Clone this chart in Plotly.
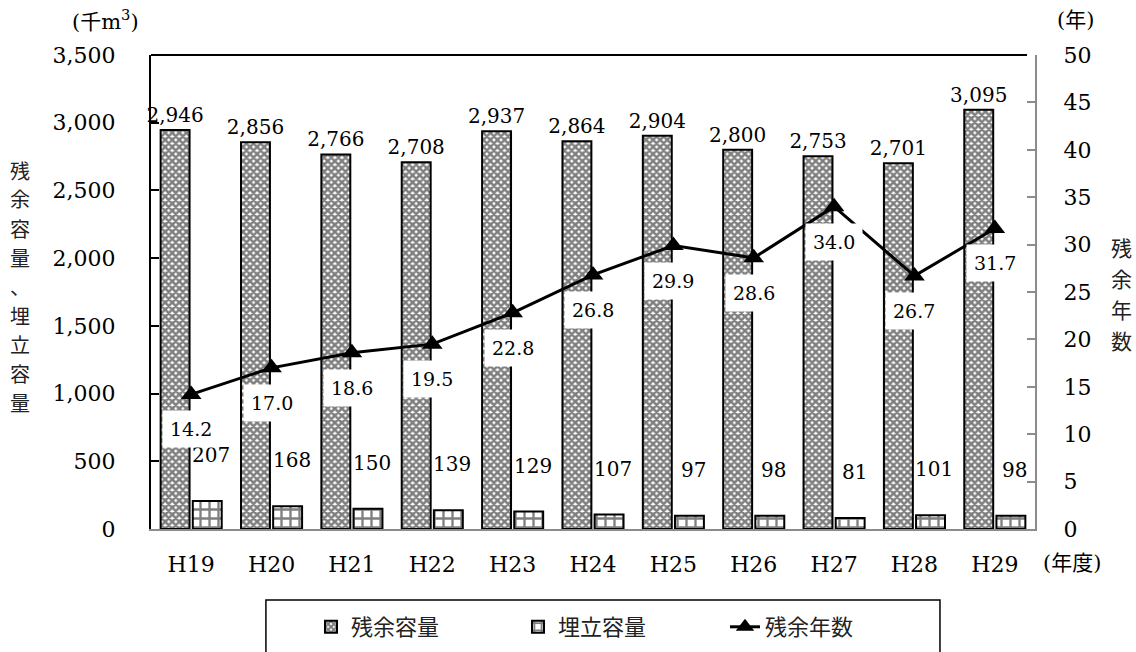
import plotly.graph_objects as go

categories = ["H19", "H20", "H21", "H22", "H23", "H24", "H25", "H26", "H27", "H28", "H29"]
remaining_capacity = [2946, 2856, 2766, 2708, 2937, 2864, 2904, 2800, 2753, 2701, 3095]
landfill_volume = [207, 168, 150, 139, 129, 107, 97, 98, 81, 101, 98]
remaining_years = [14.2, 17.0, 18.6, 19.5, 22.8, 26.8, 29.9, 28.6, 34.0, 26.7, 31.7]
left_title = ["残", "余", "容", "量", "、", "埋", "立", "容", "量"]
right_title = ["残", "余", "年", "数"]

SERIF = "DejaVu Serif, Noto Sans CJK JP"
CJK = "Noto Sans CJK JP"
GRAY = "#8c8c8c"

fig = go.Figure()
fig.add_trace(go.Bar(
    x=categories, y=remaining_capacity, name="残余容量",
    marker=dict(color="white", line=dict(color="black", width=2),
                pattern=dict(shape="x", fgcolor="black", bgcolor="white", size=5, solidity=0.75)),
    text=remaining_capacity, texttemplate="%{y:,}", textposition="outside",
    textfont=dict(family=SERIF, size=20, color="black"),
    constraintext="none", cliponaxis=False,
))
fig.add_trace(go.Bar(
    x=categories, y=landfill_volume, name="埋立容量",
    marker=dict(color="white", line=dict(color="black", width=2),
                pattern=dict(shape="+", fgcolor="black", bgcolor="white", size=9, solidity=0.45)),
))
fig.add_trace(go.Scatter(
    x=categories, y=remaining_years, name="残余年数", yaxis="y2",
    mode="lines+markers",
    line=dict(color="black", width=3),
    marker=dict(symbol="triangle-up", size=18, color="black"),
    cliponaxis=False,
))

annotations = []
for c, v in zip(categories, landfill_volume):
    annotations.append(dict(
        x=c, y=v, xref="x", yref="y", text=f"{v:,}", showarrow=False,
        xshift=20, yshift=46, xanchor="center", yanchor="middle",
        font=dict(family=SERIF, size=20, color="black"),
    ))
for c, v in zip(categories, remaining_years):
    annotations.append(dict(
        x=c, y=v, xref="x", yref="y2", text=f"{v:.1f}", showarrow=False,
        yshift=-35, bgcolor="white", borderpad=7,
        font=dict(family=SERIF, size=19, color="black"),
    ))

annotations += [
    dict(x=-0.052, y=1.074, xref="paper", yref="paper", text="(千m<sup>3</sup>)",
         xanchor="center", yanchor="middle",
         showarrow=False, font=dict(family=SERIF, size=21, color="black")),
    dict(x=1.046, y=1.074, xref="paper", yref="paper", text="(年)",
         xanchor="center", yanchor="middle",
         showarrow=False, font=dict(family=SERIF, size=21, color="black")),
    dict(x=1.042, y=-0.072, xref="paper", yref="paper", text="(年度)",
         xanchor="center", yanchor="middle",
         showarrow=False, font=dict(family=SERIF, size=21, color="black")),
]
for i, ch in enumerate(left_title):
    annotations.append(dict(
        x=-0.148, y=(529 - (170 + 29 * i)) / 474, xref="paper", yref="paper",
        text=ch, xanchor="center", yanchor="middle", showarrow=False,
        font=dict(family=CJK, size=20, color="#222")))
for i, ch in enumerate(right_title):
    annotations.append(dict(
        x=1.098, y=(529 - (247 + 31 * i)) / 474, xref="paper", yref="paper",
        text=ch, xanchor="center", yanchor="middle", showarrow=False,
        font=dict(family=CJK, size=21, color="#222")))

shapes = [
    dict(type="line", xref="paper", yref="paper", x0=0, x1=0.991, y0=1, y1=1,
         line=dict(color="black", width=2)),
    dict(type="rect", xref="paper", yref="paper", x0=0.130, x1=0.8925, y0=-0.30, y1=-0.150,
         line=dict(color="black", width=1.5), fillcolor="rgba(0,0,0,0)"),
]

fig.update_layout(
    width=1136, height=652, autosize=False,
    margin=dict(l=151, r=101, t=55, b=123),
    plot_bgcolor="white", paper_bgcolor="white",
    font=dict(family=SERIF, size=21, color="black"),
    barmode="group", bargap=0.2, bargroupgap=0.1,
    showlegend=True,
    legend=dict(orientation="h", x=0.181, xanchor="left",
                yref="container", y=(652 - 627) / 652, yanchor="middle",
                font=dict(family=CJK, size=22, color="#222"),
                entrywidth=162, entrywidthmode="pixels",
                bgcolor="rgba(0,0,0,0)", borderwidth=0),
    xaxis=dict(range=[-0.5, 10.5], showline=True, linecolor=GRAY, linewidth=2, ticks="",
               tickfont=dict(family=SERIF, size=22), ticklabelstandoff=15,
               showgrid=False, zeroline=False, fixedrange=True, automargin=False),
    yaxis=dict(range=[0, 3500], dtick=500, tickformat=",", showline=True,
               linecolor="black", linewidth=2, ticks="inside", ticklen=8,
               tickcolor="black", tickwidth=1.5, showgrid=False, zeroline=False,
               tickfont=dict(family=SERIF, size=22), ticklabelstandoff=29,
               automargin=False),
    yaxis2=dict(range=[0, 50], dtick=5, overlaying="y", side="right", showline=True,
                linecolor=GRAY, linewidth=2, ticks="inside", ticklen=8,
                tickcolor=GRAY, tickwidth=1.5, showgrid=False, zeroline=False,
                tickfont=dict(family=SERIF, size=22), ticklabelstandoff=22,
                automargin=False),
    annotations=annotations,
    shapes=shapes,
)

fig.write_html("out.html", config={"displayModeBar": False},
               post_script="document.body.style.margin='0';")
